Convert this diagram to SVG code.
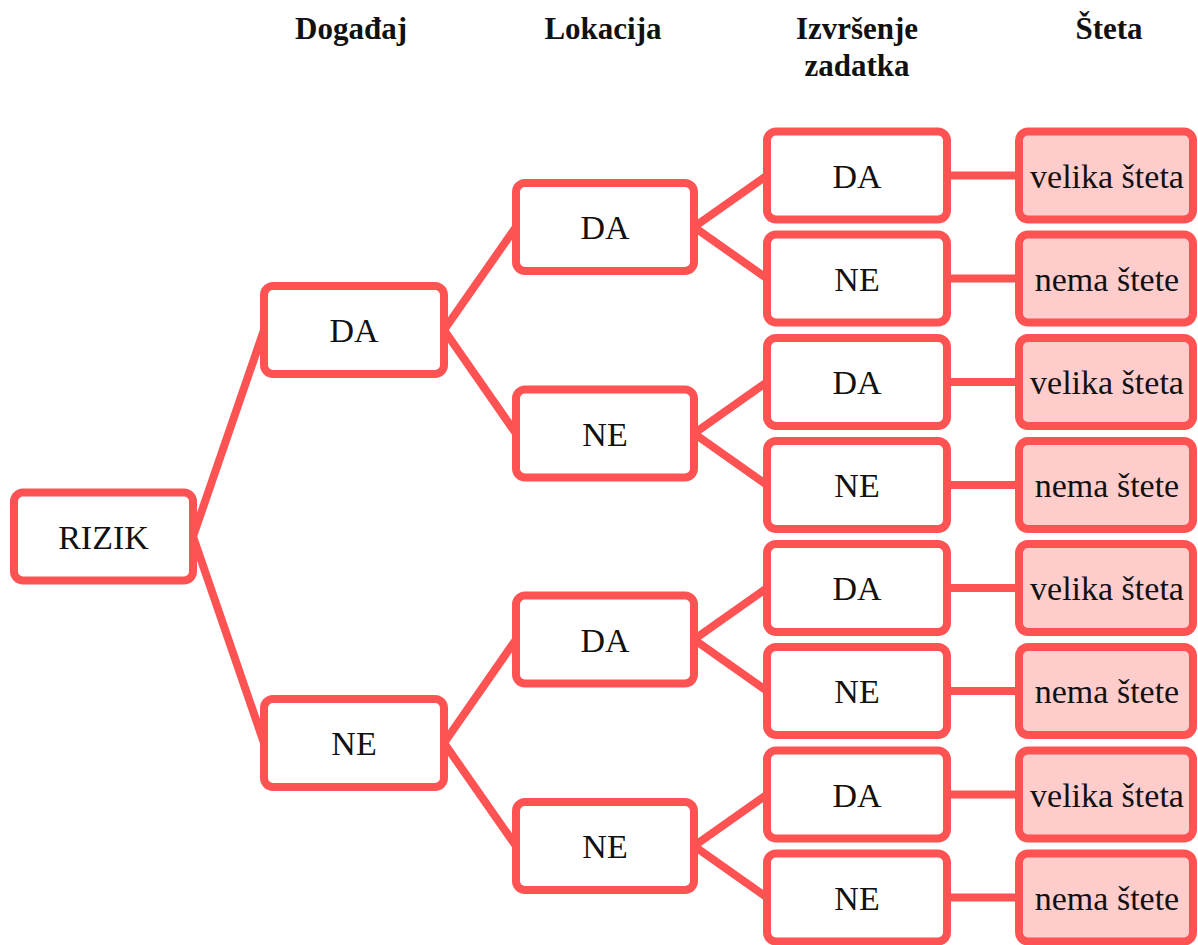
<svg xmlns="http://www.w3.org/2000/svg" width="1198" height="945" viewBox="0 0 1198 945">
<style>
.box{fill:#ffffff;stroke:#FF5252;stroke-width:8}
.leaf{fill:#FFCCCC;stroke:#FF5252;stroke-width:8}
.lbl{font-family:"Liberation Serif","DejaVu Serif",serif;font-size:34px;font-weight:normal;fill:#111;text-anchor:middle}
.hdr{font-family:"Liberation Serif","DejaVu Serif",serif;font-size:31px;font-weight:bold;fill:#111;text-anchor:middle}
.con line{stroke:#FF5252;stroke-width:8}
</style>
<rect width="1198" height="945" fill="#ffffff"/>
<g id="headers">
<text class="hdr" x="351" y="38.5">Događaj</text>
<text class="hdr" x="603" y="38.5">Lokacija</text>
<text class="hdr" x="857" y="38.5">Izvršenje</text>
<text class="hdr" x="857" y="75.5">zadatka</text>
<text class="hdr" x="1109" y="38.5">Šteta</text>
</g>
<g id="connectors" class="con">
<line x1="193" y1="536.5" x2="264" y2="330"/>
<line x1="193" y1="536.5" x2="264" y2="743"/>
<line x1="444" y1="330" x2="516" y2="227"/>
<line x1="444" y1="330" x2="516" y2="433.5"/>
<line x1="444" y1="743" x2="516" y2="639.5"/>
<line x1="444" y1="743" x2="516" y2="846"/>
<line x1="694" y1="227" x2="767" y2="175.5"/>
<line x1="694" y1="227" x2="767" y2="278.5"/>
<line x1="694" y1="433.5" x2="767" y2="382"/>
<line x1="694" y1="433.5" x2="767" y2="485"/>
<line x1="694" y1="639.5" x2="767" y2="588"/>
<line x1="694" y1="639.5" x2="767" y2="691"/>
<line x1="694" y1="846" x2="767" y2="794.5"/>
<line x1="694" y1="846" x2="767" y2="897.5"/>
<line x1="947" y1="175.5" x2="1019" y2="175.5"/>
<line x1="947" y1="278.5" x2="1019" y2="278.5"/>
<line x1="947" y1="382" x2="1019" y2="382"/>
<line x1="947" y1="485" x2="1019" y2="485"/>
<line x1="947" y1="588" x2="1019" y2="588"/>
<line x1="947" y1="691" x2="1019" y2="691"/>
<line x1="947" y1="794.5" x2="1019" y2="794.5"/>
<line x1="947" y1="897.5" x2="1019" y2="897.5"/>
</g>
<g id="n-rizik"><rect class="box" x="14" y="492.5" width="179" height="88" rx="9"/><text class="lbl" x="103.5" y="548.5">RIZIK</text></g>
<g id="n-da"><rect class="box" x="264" y="286" width="180" height="88" rx="9"/><text class="lbl" x="354" y="342">DA</text></g>
<g id="n-ne"><rect class="box" x="264" y="699" width="180" height="88" rx="9"/><text class="lbl" x="354" y="755">NE</text></g>
<g id="n-da-da"><rect class="box" x="516" y="183" width="178" height="88" rx="9"/><text class="lbl" x="605" y="239">DA</text></g>
<g id="n-da-ne"><rect class="box" x="516" y="389.5" width="178" height="88" rx="9"/><text class="lbl" x="605" y="445.5">NE</text></g>
<g id="n-ne-da"><rect class="box" x="516" y="595.5" width="178" height="88" rx="9"/><text class="lbl" x="605" y="651.5">DA</text></g>
<g id="n-ne-ne"><rect class="box" x="516" y="802" width="178" height="88" rx="9"/><text class="lbl" x="605" y="858">NE</text></g>
<g id="n-1"><rect class="box" x="767" y="131.5" width="180" height="88" rx="9"/><text class="lbl" x="857" y="187.5">DA</text></g>
<g id="n-2"><rect class="box" x="767" y="234.5" width="180" height="88" rx="9"/><text class="lbl" x="857" y="290.5">NE</text></g>
<g id="n-3"><rect class="box" x="767" y="338" width="180" height="88" rx="9"/><text class="lbl" x="857" y="394">DA</text></g>
<g id="n-4"><rect class="box" x="767" y="441" width="180" height="88" rx="9"/><text class="lbl" x="857" y="497">NE</text></g>
<g id="n-5"><rect class="box" x="767" y="544" width="180" height="88" rx="9"/><text class="lbl" x="857" y="600">DA</text></g>
<g id="n-6"><rect class="box" x="767" y="647" width="180" height="88" rx="9"/><text class="lbl" x="857" y="703">NE</text></g>
<g id="n-7"><rect class="box" x="767" y="750.5" width="180" height="88" rx="9"/><text class="lbl" x="857" y="806.5">DA</text></g>
<g id="n-8"><rect class="box" x="767" y="853.5" width="180" height="88" rx="9"/><text class="lbl" x="857" y="909.5">NE</text></g>
<g id="l-1"><rect class="leaf" x="1019" y="131.5" width="174" height="88" rx="9"/><text class="lbl" x="1107" y="187.5">velika šteta</text></g>
<g id="l-2"><rect class="leaf" x="1019" y="234.5" width="174" height="88" rx="9"/><text class="lbl" x="1107" y="290.5">nema štete</text></g>
<g id="l-3"><rect class="leaf" x="1019" y="338" width="174" height="88" rx="9"/><text class="lbl" x="1107" y="394">velika šteta</text></g>
<g id="l-4"><rect class="leaf" x="1019" y="441" width="174" height="88" rx="9"/><text class="lbl" x="1107" y="497">nema štete</text></g>
<g id="l-5"><rect class="leaf" x="1019" y="544" width="174" height="88" rx="9"/><text class="lbl" x="1107" y="600">velika šteta</text></g>
<g id="l-6"><rect class="leaf" x="1019" y="647" width="174" height="88" rx="9"/><text class="lbl" x="1107" y="703">nema štete</text></g>
<g id="l-7"><rect class="leaf" x="1019" y="750.5" width="174" height="88" rx="9"/><text class="lbl" x="1107" y="806.5">velika šteta</text></g>
<g id="l-8"><rect class="leaf" x="1019" y="853.5" width="174" height="88" rx="9"/><text class="lbl" x="1107" y="909.5">nema štete</text></g>
</svg>
